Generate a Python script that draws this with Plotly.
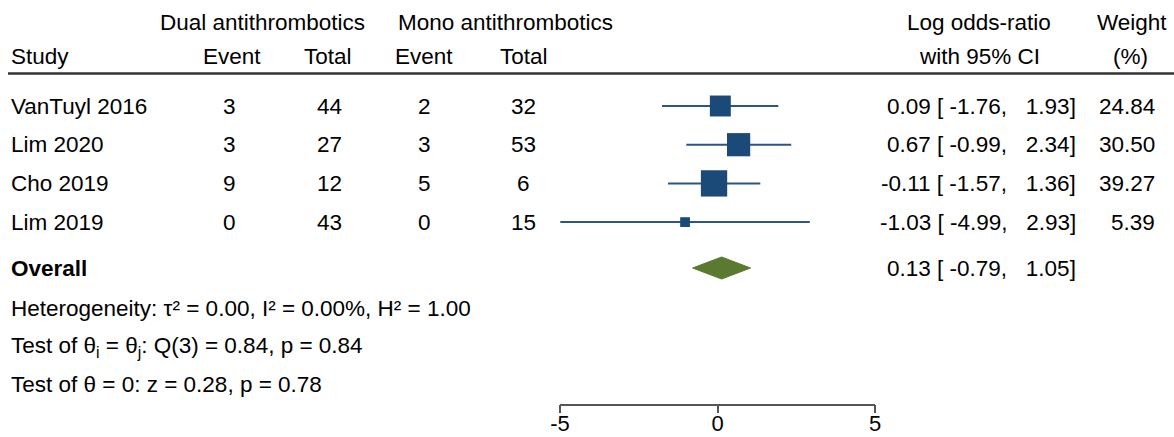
import plotly.graph_objects as go

# ---------------- data ----------------
studies = ["VanTuyl 2016", "Lim 2020", "Cho 2019", "Lim 2019"]
dual_event = [3, 3, 9, 0]
dual_total = [44, 27, 12, 43]
mono_event = [2, 3, 5, 0]
mono_total = [32, 53, 6, 15]
log_or = [0.09, 0.67, -0.11, -1.03]
ci_low = [-1.76, -0.99, -1.57, -4.99]
ci_high = [1.93, 2.34, 1.36, 2.93]
weight = [24.84, 30.50, 39.27, 5.39]

overall_label = "Overall"
overall_est = 0.13
overall_low = -0.79
overall_high = 1.05

x_ticks = [-5, 0, 5]

stats_lines = [
    "Heterogeneity: τ² = 0.00, I² = 0.00%, H² = 1.00",
    "Test of θ<sub>i</sub> = θ<sub>j</sub>: Q(3) = 0.84, p = 0.84",
    "Test of θ = 0: z = 0.28, p = 0.78",
]

# ---------------- layout constants ----------------
W, H = 1174, 437
Y0, DY = 106.0, 38.7          # pixel of row 0 and row spacing
FONT = "Liberation Sans, Arial, Helvetica, sans-serif"
FS = 22.5
NAVY = "#1c4a78"
GREEN = "#5a7a2f"


def px_x(p):
    return p / W


def row_of_px(p):
    return (p - Y0) / DY


n = len(studies)
rows = list(range(n))
overall_row = row_of_px(268)

fig = go.Figure()

# CI lines
lx, ly = [], []
for i in rows:
    lx += [ci_low[i], ci_high[i], None]
    ly += [i, i, None]
fig.add_trace(go.Scatter(x=lx, y=ly, mode="lines",
                         line=dict(color="#2a5684", width=2), hoverinfo="skip",
                         showlegend=False))

# squares sized by weight
fig.add_trace(go.Scatter(
    x=log_or, y=rows, mode="markers",
    marker=dict(symbol="square", color=NAVY, opacity=1,
                size=[4.2 * w ** 0.5 for w in weight],
                line=dict(width=0)),
    showlegend=False, cliponaxis=False))

# overall diamond
hd = 11 / DY
fig.add_trace(go.Scatter(
    x=[overall_low, overall_est, overall_high, overall_est, overall_low],
    y=[overall_row, overall_row - hd, overall_row, overall_row + hd, overall_row],
    mode="lines", fill="toself", fillcolor=GREEN,
    line=dict(color=GREEN, width=1), showlegend=False, hoverinfo="skip"))

ann = []


def add_text(text, xpx, row, anchor="center", bold=False):
    if bold:
        text = "<b>" + text + "</b>"
    ann.append(dict(text=text, x=px_x(xpx), xref="paper", y=row, yref="y",
                    xanchor=anchor, yanchor="middle", showarrow=False,
                    borderpad=0,
                    font=dict(family=FONT, size=FS, color="black")))


# headers
h1 = row_of_px(22)
h2 = row_of_px(56)
add_text("Dual antithrombotics", 262, h1)
add_text("Mono antithrombotics", 505, h1)
add_text("Log odds-ratio", 979, h1)
add_text("Weight", 1132, h1)
add_text("Study", 10, h2, "left")
add_text("Event", 232, h2)
add_text("Total", 328, h2)
add_text("Event", 424, h2)
add_text("Total", 524, h2)
add_text("with 95% CI", 979, h2)
add_text("(%)", 1130, h2)

NB = "\u00a0"
for i in rows:
    add_text(studies[i], 10, i, "left")
    add_text(str(dual_event[i]), 229, i)
    add_text(str(dual_total[i]), 329, i)
    add_text(str(mono_event[i]), 424, i)
    add_text(str(mono_total[i]), 523, i)
    hi = f"{ci_high[i]:5.2f}".replace(" ", NB)
    add_text(f"{log_or[i]:.2f}{NB}[{NB}{ci_low[i]:.2f},{NB}{NB}{hi}]", 1077, i, "right")
    add_text(f"{weight[i]:.2f}", 1156, i, "right")

add_text(overall_label, 10, overall_row, "left", bold=True)
ohi = f"{overall_high:5.2f}".replace(" ", NB)
add_text(f"{overall_est:.2f}{NB}[{NB}{overall_low:.2f},{NB}{NB}{ohi}]", 1077, overall_row, "right")

for k, s in enumerate(stats_lines):
    add_text(s, 10, row_of_px([308, 347, 384][k]), "left")

fig.update_layout(
    width=W, height=H, autosize=False,
    margin=dict(l=0, r=0, t=0, b=0, pad=0, autoexpand=False),
    paper_bgcolor="white", plot_bgcolor="white",
    annotations=ann,
    shapes=[dict(type="line", xref="paper", yref="y",
                 x0=px_x(8), x1=1.0, y0=row_of_px(73.5), y1=row_of_px(73.5),
                 line=dict(color="#333333", width=2.5))],
    xaxis=dict(domain=[px_x(560), px_x(875)], range=[-5, 5],
               tickvals=x_ticks, ticktext=[str(t) for t in x_ticks],
               ticks="outside", ticklen=8, tickwidth=1.5, tickcolor="#555555",
               showline=True, linecolor="#555555", linewidth=1.5,
               showgrid=False, zeroline=False,
               anchor="free", position=1 - 404.5 / H,
               ticklabelstandoff=-9,
               tickfont=dict(family=FONT, size=22, color="black")),
    yaxis=dict(domain=[0, 1], range=[row_of_px(H), row_of_px(0)],
               visible=False, showgrid=False, zeroline=False),
)

fig.write_html("out.html")
